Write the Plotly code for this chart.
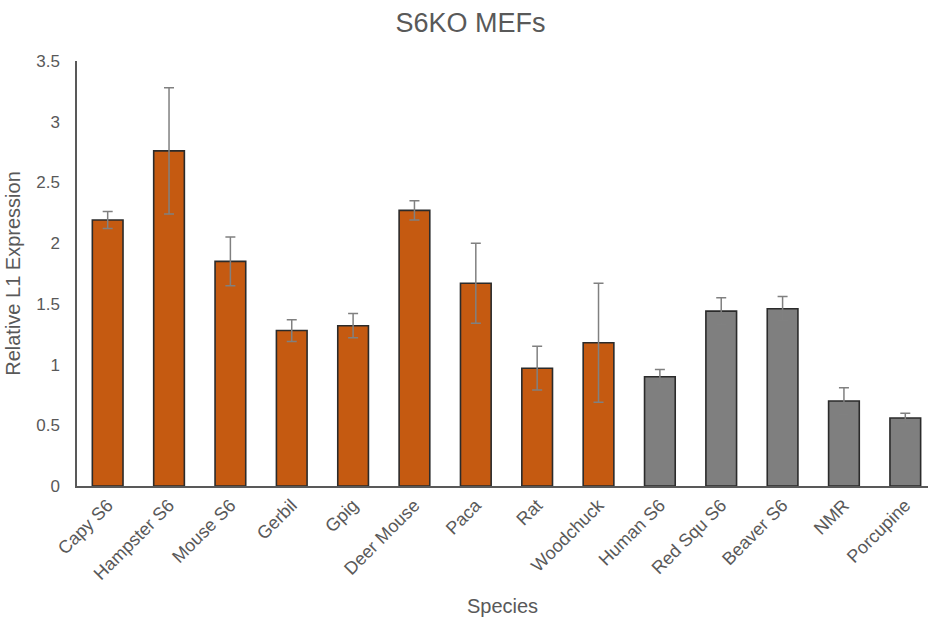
import plotly.graph_objects as go

species = ["Capy S6", "Hampster S6", "Mouse S6", "Gerbil", "Gpig", "Deer Mouse",
           "Paca", "Rat", "Woodchuck", "Human S6", "Red Squ S6", "Beaver S6",
           "NMR", "Porcupine"]
expression = [2.19, 2.76, 1.85, 1.28, 1.32, 2.27, 1.67, 0.97, 1.18, 0.90, 1.44, 1.46, 0.70, 0.56]
errors = [0.07, 0.52, 0.20, 0.09, 0.10, 0.08, 0.33, 0.18, 0.49, 0.06, 0.11, 0.10, 0.11, 0.04]
groups = ["other"] * 9 + ["long"] * 5

ORANGE = "#C55A11"
GRAY = "#7F7F7F"
TEXT = "#595959"
colors = [ORANGE if g == "other" else GRAY for g in groups]

fig = go.Figure(go.Bar(
    x=species,
    y=expression,
    marker=dict(color=colors, line=dict(color="#2b2b2b", width=1.6)),
    width=0.5,
    error_y=dict(type="data", array=errors, visible=True,
                 color="#808080", thickness=1.5, width=5),
))

fig.update_layout(
    width=928, height=619,
    margin=dict(l=77, r=0, t=61, b=133),
    paper_bgcolor="white", plot_bgcolor="white",
    font=dict(family="Liberation Sans, Arial, sans-serif", color=TEXT, size=17),
    title=dict(text="S6KO MEFs", x=0.507, xref="container", xanchor="center",
               y=0.963, yref="container", yanchor="middle",
               font=dict(size=27, color=TEXT)),
    showlegend=False,
    bargap=0.5,
)

fig.update_xaxes(
    range=[-0.5, 13.37],
    tickangle=-45,
    showline=True, linecolor=TEXT, linewidth=1.5,
    showgrid=False, ticks="",
    tickfont=dict(size=18, color=TEXT),
    title=dict(text="Species", font=dict(size=20, color=TEXT), standoff=16),
)
fig.update_yaxes(
    range=[0, 3.5],
    tickvals=[0, 0.5, 1, 1.5, 2, 2.5, 3, 3.5],
    ticktext=["0", "0.5", "1", "1.5", "2", "2.5", "3", "3.5"],
    showline=True, linecolor=TEXT, linewidth=1.5,
    showgrid=False, zeroline=False, ticks="",
    ticklabelstandoff=12,
    tickfont=dict(size=17, color=TEXT),
    title=dict(text="Relative L1 Expression", font=dict(size=20, color=TEXT), standoff=10),
)

fig.write_html("out.html")
